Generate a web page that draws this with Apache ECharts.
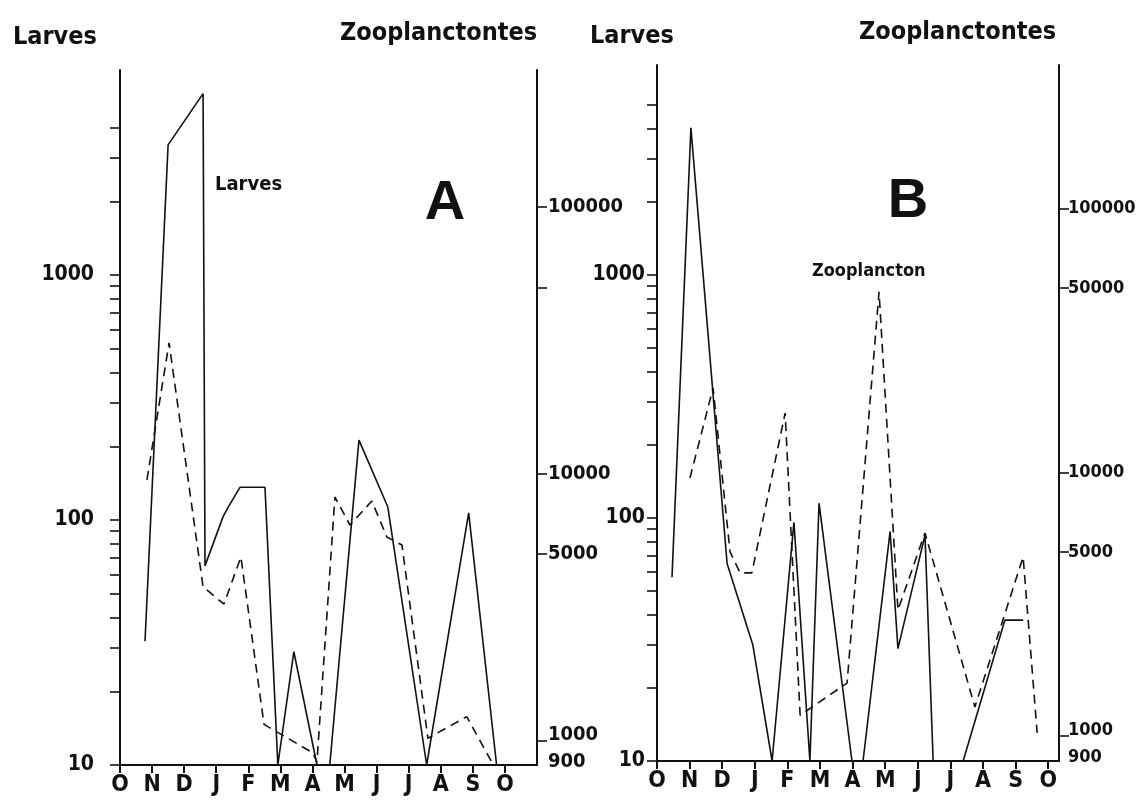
<!DOCTYPE html>
<html><head><meta charset="utf-8">
<script src="https://cdn.jsdelivr.net/npm/echarts@6/dist/echarts.min.js"></script>
<style>html,body{margin:0;padding:0;background:#fff}#c{width:1138px;height:806px}</style>
</head><body><div id="c"></div>
<script>
// month tick labels (Oct -> Oct)
const months = ['O','N','D','J','F','M','A','M','J','J','A','S','O'];
// left-axis (Larves) labels and ticks
const larvesLabels = [10, 100, 1000];
const larvesTicksA = [10,20,30,40,50,60,70,80,90,100,200,300,400,500,600,700,800,900,1000,2000,3000,4000];
const larvesTicksB = [10,20,30,40,50,60,70,80,90,100,200,300,400,500,600,700,800,900,1000,2000,3000,4000,5000];
// right-axis (Zooplanctontes) labels and ticks
const zooLabelsA = [900, 1000, 5000, 10000, 100000];
const zooTicksA = [1000, 5000, 10000, 50000, 100000];
const zooLabelsB = [900, 1000, 5000, 10000, 50000, 100000];
const zooTicksB = [1000, 5000, 10000, 50000, 100000];

// Panel A  (x = months since October)
const aLarvesX = [0.78,1.50,2.59,2.65,3.21,3.36,3.74,4.52,4.92,5.42,6.14,6.54,7.45,8.35,9.56,10.87,11.74];
const aLarvesY = [32,3400,5500,65,103,112,136,136,10,29,10,10,212,113,10,107,10];
const aZooX = [0.84,1.53,2.59,3.24,3.77,4.49,6.01,6.14,6.70,7.17,7.85,8.32,8.79,9.60,10.81,11.59];
const aZooY = [9500,31000,3770,3250,4880,1150,900,830,8190,6430,7910,5800,5410,1020,1230,830];

// Panel B
const bLarvesX = [0.46,1.04,2.15,2.94,3.53,4.20,4.69,4.97,5.98,6.32,7.15,7.39,8.22,8.47,9.39,10.67,11.23];
const bLarvesY = [57,4030,65,30,10,96,10,115,10,10,88,29,85,10,10,38,38];
const bZooX = [1.01,1.72,2.24,2.55,2.91,3.93,4.39,5.83,6.81,7.39,8.22,9.75,11.23,11.66];
const bZooY = [9530,20900,5000,4160,4160,16800,1200,1590,48400,3010,5900,1290,4780,1030];

const zip = (xs, ys) => xs.map((x, i) => [x, ys[i]]);
const COND = "'DejaVu Sans Condensed', 'Liberation Sans Narrow', sans-serif";
const INK = '#111';

function xAxis(grid, max) {
  return {
    type: 'value', gridIndex: grid, min: 0, max: max, interval: 1,
    axisLine: { show: true, onZero: false, lineStyle: { color: INK, width: 2 } },
    axisTick: { show: true, inside: false, length: 8, lineStyle: { color: INK, width: 2 } },
    axisLabel: { margin: 9, hideOverlap: false, showMinLabel: true, showMaxLabel: false,
      color: INK, fontFamily: COND, fontWeight: 'bold', fontSize: 23,
      formatter: v => (Math.abs(v - Math.round(v)) < 1e-6 ? (months[Math.round(v)] || '') : '') },
    splitLine: { show: false }
  };
}
function yAxis(grid, pos, min, max, ticks, labels, margin, size) {
  const f = { fontFamily: COND, fontWeight: 'bold', fontSize: size, color: INK };
  return {
    type: 'log', logBase: 10, gridIndex: grid, position: pos, min: min, max: max,
    axisLine: { show: true, onZero: false, lineStyle: { color: INK, width: 2 } },
    axisTick: { show: true, inside: false, length: 10, customValues: ticks, lineStyle: { color: INK, width: 1.6 } },
    axisLabel: Object.assign({ show: true, customValues: labels, margin: margin, hideOverlap: false,
      formatter: v => {
        const n = Math.round(v);
        if (n === 900) return '{lo|900}';
        if (n === 1000 && pos === 'right') return '{hi|1000}';
        return String(n);
      },
      rich: {
        lo: Object.assign({ padding: [18, 0, 0, 0] }, f),
        hi: Object.assign({ padding: [0, 0, 12, 0] }, f)
      } }, f),
    minorTick: { show: false },
    splitLine: { show: false }
  };
}
function line(xi, yi, xs, ys, dashed) {
  return {
    type: 'line', xAxisIndex: xi, yAxisIndex: yi, data: zip(xs, ys),
    showSymbol: false, symbol: 'none', animation: false, clip: false,
    lineStyle: { color: INK, width: 1.6, type: dashed ? [9, 6] : 'solid' }
  };
}
function txt(x, y, s, size, font, align) {
  return { type: 'text', x: x, y: y, silent: true,
    style: { text: s, fill: INK, font: 'bold ' + size + 'px ' + font,
      textAlign: align || 'left', textVerticalAlign: 'middle' } };
}

const chart = echarts.init(document.getElementById('c'), null, { renderer: 'canvas' });
chart.setOption({
  backgroundColor: '#fff',
  animation: false,
  grid: [
    { left: 120, top: 70, width: 417, height: 695, containLabel: false, outerBoundsMode: 'none' },
    { left: 657, top: 65, width: 402, height: 696, containLabel: false, outerBoundsMode: 'none' }
  ],
  xAxis: [ xAxis(0, 13), xAxis(1, 12.33) ],
  yAxis: [
    yAxis(0, 'left', 10, 6870, larvesTicksA, larvesLabels, 26, 21),
    yAxis(0, 'right', 810, 327000, zooTicksA, zooLabelsA, 11, 20),
    yAxis(1, 'left', 10, 7310, larvesTicksB, larvesLabels, 12, 21),
    yAxis(1, 'right', 805, 351000, zooTicksB, zooLabelsB, 9, 18)
  ],
  series: [
    line(0, 0, aLarvesX, aLarvesY, false),
    line(0, 1, aZooX, aZooY, true),
    line(1, 2, bLarvesX, bLarvesY, false),
    line(1, 3, bZooX, bZooY, true)
  ],
  graphic: [
    txt(13, 37, 'Larves', 25, COND),
    txt(340, 33, 'Zooplanctontes', 25, COND),
    txt(590, 36, 'Larves', 25, COND),
    txt(859, 32, 'Zooplanctontes', 25, COND),
    txt(215, 185, 'Larves', 20, COND),
    txt(812, 271, 'Zooplancton', 18, COND),
    txt(445, 204, 'A', 56, "'Liberation Sans', Arial, sans-serif", 'center'),
    txt(908, 202, 'B', 56, "'Liberation Sans', Arial, sans-serif", 'center')
  ]
});
</script>
</body></html>
